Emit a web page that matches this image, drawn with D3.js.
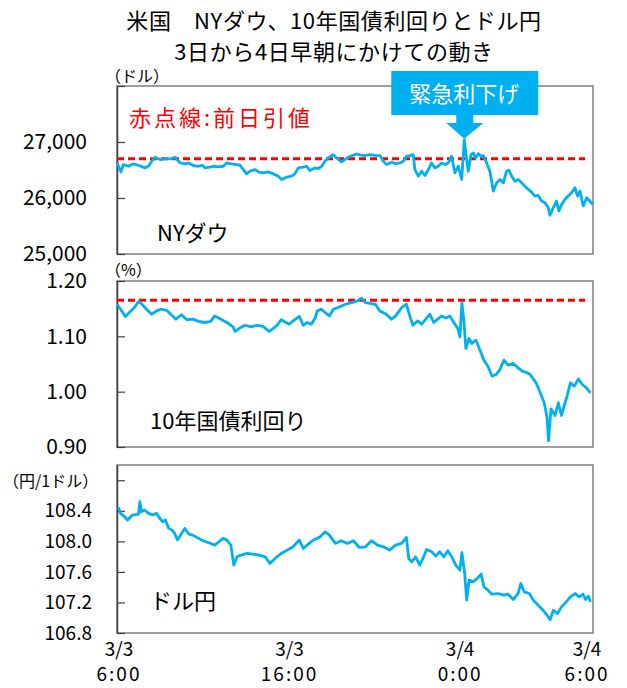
<!DOCTYPE html>
<html>
<head>
<meta charset="utf-8">
<script src="https://cdn.jsdelivr.net/npm/d3@7"></script>
<style>
  body { margin: 0; background: #fff; }
  svg { font-family: "Noto Sans CJK JP", "Noto Sans", sans-serif; }
</style>
</head>
<body>
<script>
// タイトル
const titleLines = ["米国　NYダウ、10年国債利回りとドル円", "3日から4日早朝にかけての動き"];

// 横軸（データ点の番号 0〜240）
const xTickIdx = [0, 86, 172, 236];
const xTickDate = ["3/3", "3/3", "3/4", "3/4"];
const xTickTime = ["6:00", "16:00", "0:00", "6:00"];

// NYダウ
const dowIdx = [0, 2, 3.2, 5.7, 8.2, 10.8, 14.1, 15.8, 17.5, 19.2, 21.7, 24.2, 26.7, 29.3, 31.8, 34.3, 36, 38.5, 41, 43,
  44.4, 46.9, 48.6, 51.1, 53.6, 55.3, 57.8, 60.3, 62, 63.7, 65.4, 67, 69.6, 71.3, 73.8, 76.3, 78.8, 81.3, 83, 85.5,
  88, 89.7, 91.4, 93.9, 95.6, 97.3, 99.8, 101.5, 103.2, 104.8, 106.5, 109, 110.7, 113.2, 114.9, 116.6, 119.1, 120.8, 122.5, 125,
  127.6, 130.1, 132.6, 134.3, 136, 138.5, 140.2, 142.7, 144.4, 146, 147.7, 149.4, 150.2, 151.9, 153.6, 155.3, 157, 158.6, 160.3, 162,
  163.7, 165.4, 167, 168.7, 170.4, 172.1, 173.8, 175.1, 176.3, 177.1, 178.5, 179.6, 180.8, 182.2, 183.5, 184.7, 186.4, 188, 189.7, 191.4,
  193.1, 194.8, 196.4, 197.6, 199, 200.6, 202.3, 204, 205.7, 207.4, 209, 210.7, 212.4, 214.1, 215.8, 217.4, 218.3, 220, 221.6, 222.8,
  224.2, 225.8, 227.5, 229.2, 230.9, 232.2, 233.4, 235.1, 236.8, 238.4, 239.8];
const dowVal = [26626, 26467, 26597, 26567, 26609, 26585, 26538, 26567, 26656, 26727, 26686, 26703, 26697, 26727, 26626, 26609, 26626, 26579, 26567, 26585,
  26538, 26550, 26567, 26555, 26567, 26626, 26609, 26597, 26585, 26508, 26431, 26478, 26508, 26467, 26449, 26467, 26431, 26390, 26330, 26372,
  26390, 26431, 26538, 26550, 26567, 26490, 26538, 26526, 26567, 26656, 26715, 26774, 26715, 26644, 26686, 26727, 26763, 26786, 26770, 26757,
  26774, 26763, 26757, 26656, 26597, 26638, 26615, 26626, 26656, 26745, 26757, 26774, 26508, 26390, 26478, 26402, 26508, 26626, 26538, 26567,
  26626, 26597, 26626, 26745, 26449, 26567, 26330, 27041, 26686, 26478, 26774, 26804, 26715, 26792, 26745, 26757, 26626, 26478, 26123, 26271,
  26330, 26271, 26478, 26496, 26390, 26301, 26330, 26271, 26212, 26153, 26105, 26035, 26046, 25946, 25916, 25827, 25691, 25827, 25946, 25768,
  25886, 25975, 26035, 26094, 26182, 26035, 26123, 25857, 26005, 25946, 25886];
const dowPrev = 26703;
const dowTicks = [25000, 26000, 27000, 28000];
const dowTickLabels = ["25,000", "26,000", "27,000", ""];

// 10年国債利回り
const ustIdx = [0, 1.8, 4.2, 6.2, 8.8, 10.9, 12.3, 14.9, 17.5, 20, 22, 25, 27.1, 29.7, 32.5, 35.2, 38.2, 41.2, 44.3, 47.3,
  49.3, 52.4, 55.4, 58.5, 59.5, 61.5, 64.5, 67.6, 70.6, 73.6, 76.7, 78.7, 80.7, 82.8, 85.2, 86.8, 88.8, 91.9, 93.9, 95.9,
  98, 100, 101, 103, 105, 107.1, 109.1, 112.1, 115.2, 118.2, 121.2, 123.3, 125.3, 128.3, 130.3, 132.4, 135.4, 138.4, 140.5, 143.5,
  145.9, 147.6, 149.2, 151.6, 153.6, 155.7, 157.7, 159.7, 161.7, 163.8, 165.8, 167.8, 169.8, 171.9, 172.9, 173.9, 174.9, 175.9, 177.5, 178.9,
  181, 183, 185, 187, 189.1, 191.1, 193.1, 195.1, 197.2, 199.8, 202.2, 204.3, 206.3, 208.3, 211.3, 213.4, 215.4, 216.8, 217.6, 218.8,
  220.9, 222.5, 224.1, 225.5, 226.9, 228.6, 230.6, 232.6, 234.6, 236.7, 238.7];
const ustVal = [1.158, 1.149, 1.136, 1.143, 1.152, 1.163, 1.159, 1.149, 1.140, 1.146, 1.149, 1.147, 1.140, 1.131, 1.139, 1.130, 1.131, 1.127, 1.125, 1.127,
  1.137, 1.131, 1.125, 1.117, 1.109, 1.114, 1.120, 1.117, 1.120, 1.118, 1.109, 1.114, 1.120, 1.130, 1.125, 1.122, 1.128, 1.136, 1.120, 1.125,
  1.122, 1.134, 1.146, 1.149, 1.143, 1.137, 1.149, 1.153, 1.158, 1.161, 1.164, 1.169, 1.161, 1.159, 1.158, 1.146, 1.141, 1.131, 1.137, 1.152,
  1.158, 1.137, 1.120, 1.128, 1.122, 1.131, 1.140, 1.125, 1.131, 1.137, 1.133, 1.137, 1.125, 1.114, 1.099, 1.161, 1.128, 1.078, 1.096, 1.087,
  1.093, 1.075, 1.057, 1.046, 1.028, 1.031, 1.040, 1.057, 1.048, 1.051, 1.043, 1.037, 1.035, 1.031, 1.016, 0.998, 0.980, 0.954, 0.911, 0.969,
  0.957, 0.980, 0.957, 0.975, 0.992, 1.016, 1.010, 1.023, 1.013, 1.007, 0.998];
const ustPrev = 1.165;
const ustTicks = [0.9, 1.0, 1.1, 1.2];
const ustTickLabels = ["0.90", "1.00", "1.10", "1.20"];

// ドル円
const jpyIdx = [0.7, 1.8, 3.8, 5.4, 7.8, 10.9, 11.5, 12.3, 13.9, 15.9, 18, 20, 21.6, 23, 24.4, 26.1, 27.7, 29.1, 30.5, 32.1,
  34.2, 36.2, 38.2, 40.2, 43.3, 46.3, 49.3, 51.4, 53.4, 55.4, 57.4, 58.9, 60.5, 62.5, 65.5, 68.6, 71.6, 74.7, 77.1, 79.7,
  82.8, 85.8, 88.8, 91.9, 93.9, 96.9, 99, 102, 105, 107.1, 110.1, 113.1, 116.2, 119.2, 122.2, 125.3, 128.3, 131.4, 134.4, 137.4,
  140.5, 143.5, 145.9, 147.1, 148.6, 150.6, 152.6, 154.6, 156.1, 158.7, 160.7, 162.7, 164.8, 166.8, 168.8, 170.8, 172.9, 173.9, 175.3, 176.3,
  177.5, 179.5, 181.6, 183.6, 185, 187, 189.1, 192.1, 195.1, 197.2, 199.8, 202.2, 203.6, 205.3, 207.9, 209.9, 212.4, 214.8, 216.8, 218.4,
  220, 222.1, 224.1, 226.5, 228.6, 231, 233, 235, 236.2, 237.7, 238.7];
const jpyVal = [108.445, 108.366, 108.323, 108.279, 108.345, 108.358, 108.519, 108.388, 108.410, 108.366, 108.345, 108.366, 108.301, 108.257, 108.279, 108.170, 108.148, 108.104, 108.017, 108.082,
  108.170, 108.096, 108.082, 108.052, 108.008, 107.982, 107.951, 107.995, 108.039, 108.017, 107.951, 107.689, 107.798, 107.820, 107.842, 107.833, 107.820, 107.798, 107.711, 107.776,
  107.842, 107.885, 107.929, 108.017, 107.907, 107.973, 108.017, 108.052, 108.126, 108.082, 107.973, 108.008, 107.973, 108.008, 107.920, 107.929, 108.008, 107.951, 107.929, 107.885,
  107.951, 107.973, 108.052, 107.776, 107.732, 107.798, 107.689, 107.798, 107.894, 107.864, 107.807, 107.864, 107.798, 107.877, 107.798, 107.689, 107.623, 107.851, 107.579, 107.230,
  107.492, 107.470, 107.514, 107.571, 107.405, 107.361, 107.308, 107.317, 107.295, 107.308, 107.238, 107.317, 107.448, 107.339, 107.317, 107.230, 107.164, 107.098, 107.033, 106.976,
  107.098, 107.055, 107.142, 107.208, 107.273, 107.317, 107.273, 107.308, 107.238, 107.282, 107.208];
const jpyTicks = [106.8, 107.2, 107.6, 108.0, 108.4, 108.8];
const jpyTickLabels = ["106.8", "107.2", "107.6", "108.0", "108.4", ""];

const blue = "#00b0f0", red = "#ff0000";

const width = 627, height = 688;
const svg = d3.select("body").append("svg")
    .attr("width", width)
    .attr("height", height);

const x = d3.scaleLinear().domain([0, 240]).range([117, 593]);

svg.selectAll(".title")
    .data(titleLines)
    .enter().append("text")
    .attr("x", 334)
    .attr("y", (d, i) => 29 + i * 31)
    .attr("text-anchor", "middle")
    .style("font-size", "22px")
    .style("letter-spacing", "0.6px")
    .text(d => d);

const panels = [
    {name: "NYダウ", idx: dowIdx, val: dowVal, prev: dowPrev, domain: [25000, 28000], top: 86, bottom: 254,
     ticks: dowTicks, labels: dowTickLabels, pad: 30, fs: 21, unit: "（ドル）", ux: 105, uy: 82, nx: 157, ny: 241},
    {name: "10年国債利回り", idx: ustIdx, val: ustVal, prev: ustPrev, domain: [0.9, 1.2], top: 281, bottom: 447,
     ticks: ustTicks, labels: ustTickLabels, pad: 30, fs: 21, unit: "（%）", ux: 105, uy: 276, nx: 150, ny: 429},
    {name: "ドル円", idx: jpyIdx, val: jpyVal, prev: null, domain: [106.8, 109.0], top: 465, bottom: 633,
     ticks: jpyTicks, labels: jpyTickLabels, pad: 25, fs: 19, unit: "（円/1ドル）", ux: 3, uy: 487, nx: 150, ny: 609}
];

panels.forEach(function(p) {
    const y = d3.scaleLinear().domain(p.domain).range([p.bottom, p.top]);
    p.y = y;
    const g = svg.append("g");

    g.append("rect")
        .attr("x", x.range()[0])
        .attr("y", p.top)
        .attr("width", x.range()[1] - x.range()[0])
        .attr("height", p.bottom - p.top)
        .style("fill", "none")
        .style("stroke", "#7f7f7f")
        .style("stroke-width", 1.5);

    const axis = g.append("g")
        .attr("transform", "translate(" + x.range()[0] + ",0)")
        .call(d3.axisLeft(y)
            .tickValues(p.ticks)
            .tickSizeInner(-8)
            .tickSizeOuter(0)
            .tickPadding(p.pad)
            .tickFormat((d, i) => p.labels[i]));
    axis.select(".domain").style("stroke", "#404040").style("stroke-width", 1.5);
    axis.selectAll(".tick line").style("stroke", "#404040").style("stroke-width", 1.2);
    axis.selectAll(".tick text")
        .style("font-family", '"Noto Sans CJK JP", sans-serif')
        .style("font-size", p.fs + "px")
        .style("fill", "#000");

    if (p.prev !== null) {
        g.append("line")
            .attr("x1", x(0))
            .attr("x2", x(236))
            .attr("y1", y(p.prev))
            .attr("y2", y(p.prev))
            .style("stroke", red)
            .style("stroke-width", 3)
            .style("stroke-dasharray", "7,4");
    }

    const line = d3.line()
        .x(d => x(d[0]))
        .y(d => y(d[1]));
    g.append("path")
        .datum(d3.zip(p.idx, p.val))
        .attr("d", line)
        .style("fill", "none")
        .style("stroke", blue)
        .style("stroke-width", 2.8)
        .style("stroke-linejoin", "round");

    g.append("text")
        .attr("x", p.ux)
        .attr("y", p.uy)
        .style("font-size", "16px")
        .text(p.unit);

    g.append("text")
        .attr("x", p.nx)
        .attr("y", p.ny)
        .style("font-size", "22px")
        .text(p.name);
});

// 赤点線の説明
svg.append("text")
    .attr("x", 129)
    .attr("y", 126)
    .style("font-size", "22px")
    .style("letter-spacing", "3px")
    .style("fill", red)
    .text("赤点線:前日引値");

// 緊急利下げの吹き出し（ダウの最高値の点を指す）
const spike = d3.maxIndex(dowVal);
const tipX = x(dowIdx[spike]), tipY = panels[0].y(dowVal[spike]) - 1;
const call = svg.append("g");
call.append("path")
    .attr("d", "M" + (tipX - 73) + ",71H" + (tipX + 74) + "V115H" + (tipX + 9) + "V123H" + (tipX + 19) +
        "L" + tipX + "," + tipY + "L" + (tipX - 18) + ",123H" + (tipX - 8) + "V115H" + (tipX - 73) + "Z")
    .style("fill", blue);
call.append("text")
    .attr("x", tipX)
    .attr("y", 102)
    .attr("text-anchor", "middle")
    .style("font-size", "22px")
    .style("fill", "#fff")
    .text("緊急利下げ");

// 横軸ラベル
const xl = svg.selectAll(".xl")
    .data(xTickIdx)
    .enter().append("g");
xl.append("text")
    .attr("x", d => x(d) + 2)
    .attr("y", 656)
    .attr("text-anchor", "middle")
    .style("font-size", "19px")
    .text((d, i) => xTickDate[i]);
xl.append("text")
    .attr("x", d => x(d) + 2)
    .attr("y", 681)
    .attr("text-anchor", "middle")
    .style("font-size", "19px")
    .style("letter-spacing", "2px")
    .text((d, i) => xTickTime[i]);
</script>
</body>
</html>
